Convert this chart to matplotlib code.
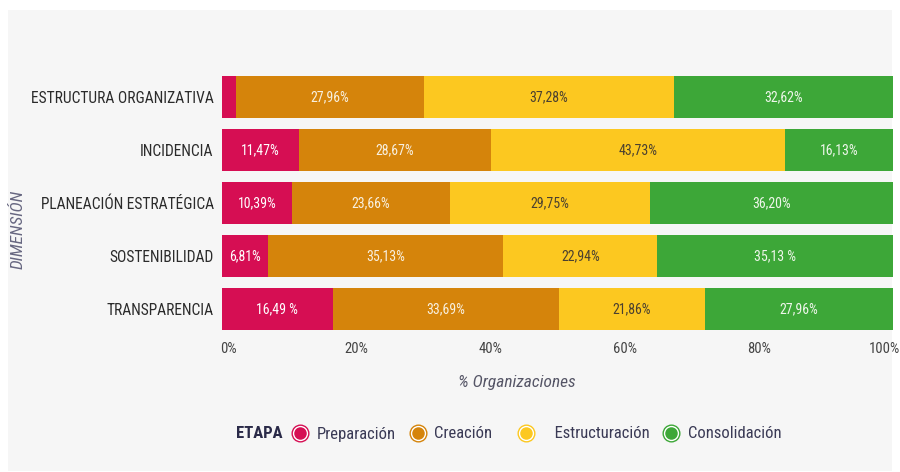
import matplotlib
matplotlib.use("Agg")
import matplotlib.pyplot as plt
from matplotlib.lines import Line2D
from matplotlib.patches import Rectangle
from matplotlib import font_manager as fm
from matplotlib.transforms import ScaledTranslation

installed = {f.name for f in fm.fontManager.ttflist}
cond_candidates = ["Roboto Condensed", "Liberation Sans Narrow", "Open Sans Condensed",
                   "Noto Sans Condensed", "DejaVu Sans Condensed"]
found = [c for c in cond_candidates if c in installed]
if found:
    base = found[0]
    scale = 1.0
else:
    base = "Roboto"
    scale = 0.86
plt.rcParams['font.family'] = [base, 'DejaVu Sans']

categories = ["ESTRUCTURA ORGANIZATIVA", "INCIDENCIA", "PLANEACIÓN ESTRATÉGICA",
              "SOSTENIBILIDAD", "TRANSPARENCIA"]
stages = ["Preparación", "Creación", "Estructuración", "Consolidación"]
preparacion = [2.14, 11.47, 10.39, 6.81, 16.49]
creacion = [27.96, 28.67, 23.66, 35.13, 33.69]
estructuracion = [37.28, 43.73, 29.75, 22.94, 21.86]
consolidacion = [32.62, 16.13, 36.20, 35.13, 27.96]
labels = [
    ["", "27,96%", "37,28%", "32,62%"],
    ["11,47%", "28,67%", "43,73%", "16,13%"],
    ["10,39%", "23,66%", "29,75%", "36,20%"],
    ["6,81%", "35,13%", "22,94%", "35,13 %"],
    ["16,49 %", "33,69%", "21,86%", "27,96%"],
]
xticks = [0, 20, 40, 60, 80, 100]
xticklabels = ["0%", "20%", "40%", "60%", "80%", "100%"]

colors = ["#d60e53", "#d5840b", "#fcc820", "#3da738"]
text_colors = ["white", "#f8f0e0", "#4a4030", "#eef6ea"]

fig = plt.figure(figsize=(9, 4.72), dpi=100, facecolor="white")
fig.patches.append(Rectangle((8 / 900, 1 / 472), 884 / 900, 461 / 472,
                             transform=fig.transFigure, facecolor="#f6f6f6",
                             edgecolor="none", zorder=-10))

ax = fig.add_axes([222 / 900, 1 - 335.5 / 472, 671 / 900, 265 / 472])
ax.set_facecolor("none")

series = [preparacion, creacion, estructuracion, consolidacion]
ypos = list(range(len(categories)))
left = [0.0] * len(categories)
for si, vals in enumerate(series):
    bars = ax.barh(ypos, vals, left=left, height=0.79, color=colors[si],
                   edgecolor="none", label=stages[si])
    for i, b in enumerate(bars):
        txt = labels[i][si]
        if txt:
            ax.text(b.get_x() + b.get_width() / 2, b.get_y() + b.get_height() / 2,
                    txt, ha="center", va="center", fontsize=10 * scale,
                    color=text_colors[si])
    left = [l + v for l, v in zip(left, vals)]

ax.set_xlim(0, 100)
ax.set_ylim(len(categories) - 0.5, -0.5)
ax.set_yticks(ypos)
ax.set_yticklabels(categories, fontsize=11.2 * scale, color="#2b2b2b")
ax.set_xticks(xticks)
ax.set_xticklabels(xticklabels, fontsize=10.5 * scale, color="#444444")
ax.tick_params(axis="both", length=0)
ax.tick_params(axis="y", pad=6)
ax.tick_params(axis="x", pad=5)
for s in ax.spines.values():
    s.set_visible(False)
xt = ax.get_xticklabels()
xt[0].set_transform(xt[0].get_transform() + ScaledTranslation(6 / 100, 0, fig.dpi_scale_trans))
xt[-1].set_transform(xt[-1].get_transform() + ScaledTranslation(-9 / 100, 0, fig.dpi_scale_trans))

ax.set_xlabel("% Organizaciones", fontsize=12.5 * scale, style="italic", color="#555566")
ax.xaxis.set_label_coords((517 - 222) / 671, -(383 - 335.5) / 265, transform=ax.transAxes)
ax.xaxis.label.set_va("center")
fig.text(18 / 900, 1 - 229 / 472, "DIMENSIÓN", rotation=90, ha="center",
         va="center", fontsize=12.5 * scale, style="italic", color="#666680")

fig.text(236 / 900, 1 - 434 / 472, "ETAPA", fontsize=12 * scale, fontweight="bold",
         color="#2a2a48", ha="left", va="center")
handles = []
for c in colors:
    outer = Line2D([], [], linestyle="none", marker="o", markersize=12,
                   markerfacecolor="white", markeredgecolor=c, markeredgewidth=1.0)
    inner = Line2D([], [], linestyle="none", marker="o", markersize=9,
                   markerfacecolor=c, markeredgecolor="none")
    handles.append((outer, inner))
leg = fig.legend(handles, ["Preparación", "Creación   ", "   Estructuración", "Consolidación"],
                 loc="center left", bbox_to_anchor=(282 / 900, 1 - 434 / 472),
                 ncol=4, frameon=False, fontsize=12 * scale, handlelength=1.2,
                 handletextpad=0.4, columnspacing=0.7, borderpad=0)
for t in leg.get_texts():
    t.set_color("#3a3a55")

fig.savefig("out.png", dpi=100, facecolor="white")
